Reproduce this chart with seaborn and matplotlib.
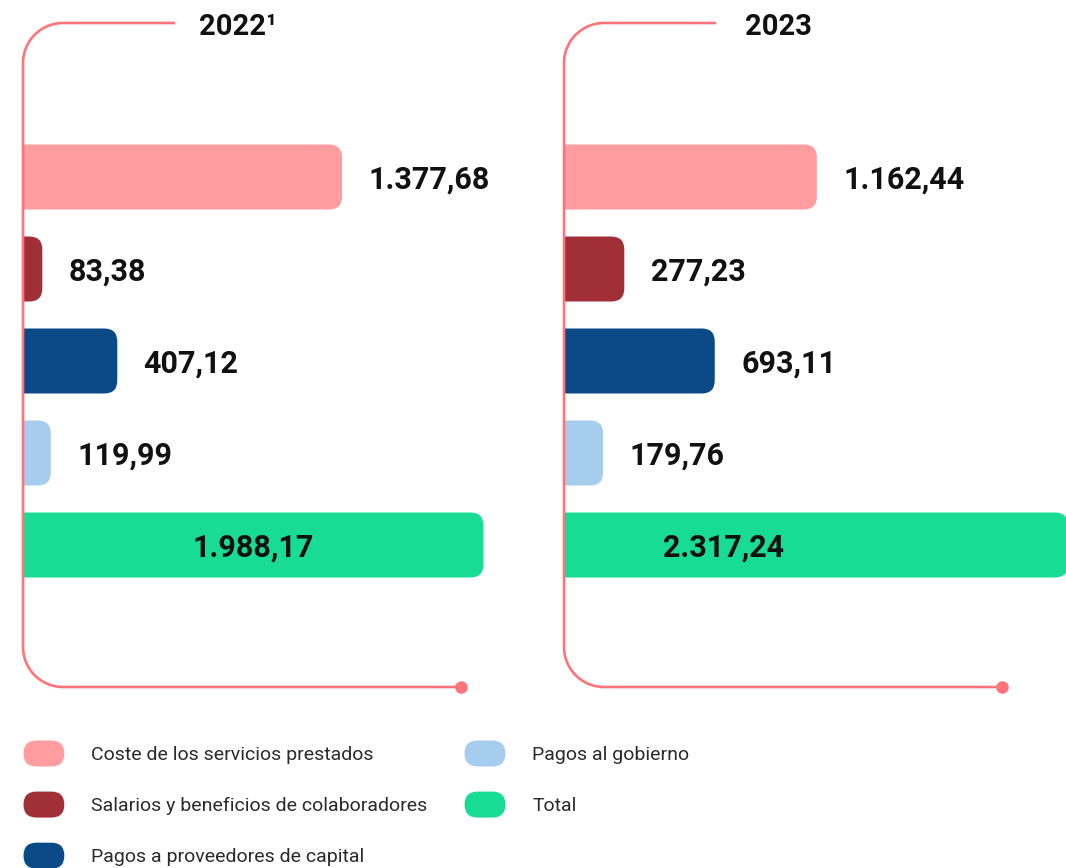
import matplotlib
matplotlib.use("Agg")
import matplotlib.pyplot as plt
import seaborn as sns
import numpy as np
import pandas as pd
from matplotlib.patches import FancyBboxPatch, Patch
from matplotlib.legend_handler import HandlerPatch

# data
categories = ["Coste de los servicios prestados",
              "Salarios y beneficios de colaboradores",
              "Pagos a proveedores de capital",
              "Pagos al gobierno",
              "Total"]
values_2022 = [1377.68, 83.38, 407.12, 119.99, 1988.17]
values_2023 = [1162.44, 277.23, 693.11, 179.76, 2317.24]
labels_2022 = ["1.377,68", "83,38", "407,12", "119,99", "1.988,17"]
labels_2023 = ["1.162,44", "277,23", "693,11", "179,76", "2.317,24"]
years = ["2022\u00b9", "2023"]
colors = ["#FF9DA1", "#A12F38", "#0B4A87", "#A6CCEE", "#18DC94"]
frame_color = "#FF747A"

sns.set_theme(style="white")
plt.rcParams["font.family"] = ["Roboto", "DejaVu Sans"]

W, H = 1066, 868
fig = plt.figure(figsize=(W / 100, H / 100), dpi=100)


def px_axes(left, top, width, height):
    return fig.add_axes([left / W, (H - top - height) / H, width / W, height / H])


# panel layout in pixels: left edge, axes width, px per unit, total-label x (data)
panels = [
    dict(left=23, width=520, scale=0.2316, total_x=993,
         vals=values_2022, labs=labels_2022),
    dict(left=564, width=502, scale=0.2175, total_x=732,
         vals=values_2023, labs=labels_2023),
]
row_px = 92
bar_frac = 65 / 92
radius_px = 13

for p in panels:
    ax = px_axes(p["left"], 131, p["width"], 5 * row_px)
    df = pd.DataFrame({"categoria": categories, "valor": p["vals"]})
    sns.barplot(data=df, x="valor", y="categoria", hue="categoria",
                palette=colors, orient="h", width=bar_frac, legend=False,
                ax=ax, saturation=1)
    xmax = p["width"] / p["scale"]
    ax.set_xlim(0, xmax)
    ax.set_ylim(4.5, -0.5)
    # swap the plain rectangles for rounded ones
    r_x = radius_px / p["scale"]
    aspect = (radius_px / row_px) / r_x
    for bar in list(ax.patches):
        x0, y0 = bar.get_x(), bar.get_y()
        w, h = bar.get_width(), bar.get_height()
        fc = bar.get_facecolor()
        bar.remove()
        rb = FancyBboxPatch((x0 - 3 * r_x, y0), w + 3 * r_x, h,
                            boxstyle=f"round,pad=0,rounding_size={r_x}",
                            mutation_aspect=aspect, fc=fc, ec="none")
        ax.add_patch(rb)
    for i, (v, lab) in enumerate(zip(p["vals"], p["labs"])):
        if i == len(categories) - 1:
            ax.annotate(lab, (p["total_x"], i), xytext=(0, -2),
                        textcoords="offset points", ha="center", va="center",
                        fontsize=22, fontweight="bold", color="#111111")
        else:
            ax.annotate(lab, (v, i), xytext=(19, -2), textcoords="offset points",
                        ha="left", va="center", fontsize=22,
                        fontweight="bold", color="#111111",
                        annotation_clip=False)
    ax.set_axis_off()

# decorative frames and titles
ov = fig.add_axes([0, 0, 1, 1], zorder=5)
ov.set_xlim(0, W)
ov.set_ylim(H, 0)
ov.set_axis_off()
ov.patch.set_alpha(0)

r = 40
t = np.linspace(0, np.pi / 2, 30)
for (vx, top_end, bot_end, tx), yr in zip([(23, 175, 461, 238), (564, 716, 1002, 778)], years):
    xs = [top_end, vx + r]
    ys = [23, 23]
    xs += list(vx + r - r * np.sin(t))
    ys += list(23 + r - r * np.cos(t))
    xs += [vx, vx]
    ys += [23 + r, 687 - r]
    xs += list(vx + r - r * np.cos(t))
    ys += list(687 - r + r * np.sin(t))
    xs += [bot_end]
    ys += [687]
    ov.plot(xs, ys, color=frame_color, lw=1.9, solid_capstyle="butt")
    ov.plot([bot_end], [687], "o", color=frame_color, ms=8)
    ov.text(tx, 27, yr, ha="center", va="center", fontsize=21,
            fontweight="bold", color="#111111")


# legend with pill-shaped keys
class PillHandler(HandlerPatch):
    def create_artists(self, legend, orig_handle, xdescent, ydescent,
                       width, height, fontsize, trans):
        pill = FancyBboxPatch((-xdescent, -ydescent), width, height,
                              boxstyle=f"round,pad=0,rounding_size={height / 2}",
                              fc=orig_handle.get_facecolor(), ec="none",
                              transform=trans)
        return [pill]


handles = [Patch(facecolor=c) for c in colors]
fig.legend(handles, categories, ncol=2, loc="upper left",
           bbox_to_anchor=(6 / W, 1 - 723 / H), frameon=False,
           prop={"size": 14}, handlelength=2.1, handleheight=1.68,
           handletextpad=1.39, labelspacing=1.29, columnspacing=1.9,
           labelcolor="#2a2a2a", handler_map={Patch: PillHandler()})

fig.savefig("out.png", dpi=100)
